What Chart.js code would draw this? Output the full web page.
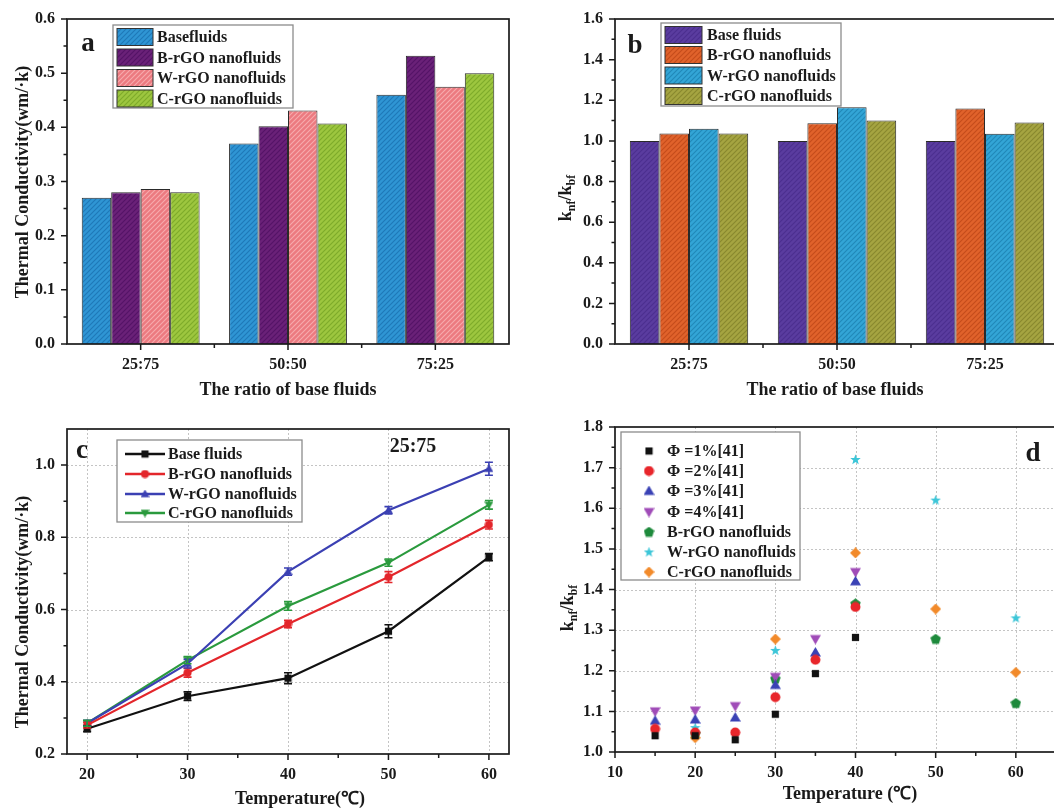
<!DOCTYPE html>
<html>
<head>
<meta charset="utf-8">
<title>rGO nanofluids</title>
<script src="https://cdn.jsdelivr.net/npm/chart.js@4.4.1/dist/chart.umd.min.js"></script>
<style>
  html, body { margin: 0; padding: 0; background: #fff; width: 1054px; height: 808px; overflow: hidden; }
  canvas { position: absolute; }
</style>
</head>
<body>
<canvas id="chartA" width="527" height="404" style="left:0;top:0"></canvas>
<canvas id="chartB" width="545" height="404" style="left:527px;top:0"></canvas>
<canvas id="chartC" width="527" height="404" style="left:0;top:404px"></canvas>
<canvas id="chartD" width="580" height="404" style="left:527px;top:404px"></canvas>
<script>
const FONT = '"Liberation Serif", "Times New Roman", serif';
const INK = '#1a1a1a';

// --- panel a: thermal conductivity by base-fluid ratio ---
const ratioLabels = ['25:75', '50:50', '75:25'];
const namesA = ['Basefluids', 'B-rGO nanofluids', 'W-rGO nanofluids', 'C-rGO nanofluids'];
const baseA = [0.270, 0.370, 0.460];
const bRgoA = [0.280, 0.402, 0.532];
const wRgoA = [0.286, 0.431, 0.475];
const cRgoA = [0.280, 0.407, 0.500];
const yTicksA = [0, 0.1, 0.2, 0.3, 0.4, 0.5, 0.6];

// --- panel b: knf/kbf by ratio ---
const namesB = ['Base fluids', 'B-rGO nanofluids', 'W-rGO nanofluids', 'C-rGO nanofluids'];
const baseB = [1.000, 1.000, 1.000];
const bRgoB = [1.036, 1.087, 1.160];
const wRgoB = [1.060, 1.165, 1.035];
const cRgoB = [1.036, 1.100, 1.090];
const yTicksB = [0, 0.2, 0.4, 0.6, 0.8, 1.0, 1.2, 1.4, 1.6];

// --- panel c: conductivity vs temperature (25:75) ---
const namesC = ['Base fluids', 'B-rGO nanofluids', 'W-rGO nanofluids', 'C-rGO nanofluids'];
const tempC = [20, 30, 40, 50, 60];
const baseC = [0.270, 0.360, 0.410, 0.540, 0.745];
const bRgoC = [0.280, 0.425, 0.560, 0.690, 0.835];
const wRgoC = [0.285, 0.450, 0.705, 0.875, 0.990];
const cRgoC = [0.285, 0.460, 0.610, 0.730, 0.890];
const errBaseC = [0.008, 0.012, 0.015, 0.018, 0.010];
const errBRgoC = [0.008, 0.012, 0.010, 0.015, 0.012];
const errWRgoC = [0.008, 0.012, 0.010, 0.010, 0.018];
const errCRgoC = [0.008, 0.010, 0.012, 0.010, 0.012];
const xTicksC = [20, 30, 40, 50, 60];
const yTicksC = [0.2, 0.4, 0.6, 0.8, 1.0];

// --- panel d: knf/kbf vs temperature, compared with ref [41] ---
const namesD = ['Φ =1%[41]', 'Φ =2%[41]', 'Φ =3%[41]', 'Φ =4%[41]',
                'B-rGO nanofluids', 'W-rGO nanofluids', 'C-rGO nanofluids'];
const tempRef = [15, 20, 25, 30, 35, 40];
const phi1 = [1.040, 1.040, 1.030, 1.093, 1.193, 1.282];
const phi2 = [1.057, 1.048, 1.048, 1.135, 1.227, 1.357];
const phi3 = [1.077, 1.080, 1.085, 1.165, 1.245, 1.420];
const phi4 = [1.100, 1.102, 1.113, 1.185, 1.278, 1.443];
const tempRgo = [20, 30, 40, 50, 60];
const bRgoD = [1.045, 1.180, 1.365, 1.278, 1.120];
const wRgoD = [1.060, 1.250, 1.720, 1.620, 1.330];
const cRgoD = [1.035, 1.278, 1.490, 1.352, 1.196];
const xTicksD = [10, 20, 30, 40, 50, 60, 70];
const yTicksD = [1.0, 1.1, 1.2, 1.3, 1.4, 1.5, 1.6, 1.7, 1.8];

// ---------- helpers ----------
const mids = arr => arr.slice(1).map((v, i) => (v + arr[i]) / 2);
const pts = (xs, ys) => xs.map((x, i) => ({ x: x, y: ys[i] }));

function hatch(ctx, base, stripe) {
    const s = 5;
    const c = document.createElement('canvas');
    c.width = s; c.height = s;
    const g = c.getContext('2d');
    g.fillStyle = base; g.fillRect(0, 0, s, s);
    g.strokeStyle = stripe; g.lineWidth = 1.1;
    g.beginPath();
    g.moveTo(0, s); g.lineTo(s, 0);
    g.moveTo(-1, 1); g.lineTo(1, -1);
    g.moveTo(s - 1, s + 1); g.lineTo(s + 1, s - 1);
    g.stroke();
    return ctx.createPattern(c, 'repeat');
}

function makeMarker(shape, color, size) {
    const c = document.createElement('canvas');
    c.width = size; c.height = size;
    const g = c.getContext('2d');
    const r = size / 2;
    g.fillStyle = color;
    g.beginPath();
    const poly = list => { list.forEach(([px, py], i) => i ? g.lineTo(px, py) : g.moveTo(px, py)); g.closePath(); };
    if (shape === 'square') g.rect(size * 0.1, size * 0.1, size * 0.8, size * 0.8);
    else if (shape === 'circle') g.arc(r, r, r * 0.9, 0, 2 * Math.PI);
    else if (shape === 'up') poly([[r, 0], [size, size * 0.87], [0, size * 0.87]]);
    else if (shape === 'down') poly([[0, size * 0.13], [size, size * 0.13], [r, size]]);
    else if (shape === 'diamond') poly([[r, 0], [size, r], [r, size], [0, r]]);
    else {
        const n = shape === 'star' ? 10 : 5, list = [];
        for (let i = 0; i < n; i++) {
            const ang = -Math.PI / 2 + i * 2 * Math.PI / n;
            const rr = (shape === 'star' && i % 2) ? r * 0.42 : r;
            list.push([r + rr * Math.cos(ang), r * 1.05 + rr * Math.sin(ang)]);
        }
        poly(list);
    }
    g.fill();
    return c;
}

function line(ctx, x1, y1, x2, y2) { ctx.moveTo(x1, y1); ctx.lineTo(x2, y2); }

// decoration drawn on top of each panel: frame, ticks, titles, legend
function makeDecor(cfg) {
    return {
        id: 'decor',
        beforeDatasetsDraw(chart) {
            if (!cfg.grid) return;
            const { ctx, chartArea: a, scales: { x, y } } = chart;
            ctx.save();
            ctx.strokeStyle = '#c4c4c4'; ctx.lineWidth = 1; ctx.setLineDash([2, 2]);
            ctx.beginPath();
            cfg.grid.x.forEach(v => { const p = Math.round(x.getPixelForValue(v)) + 0.5; line(ctx, p, a.top, p, a.bottom); });
            cfg.grid.y.forEach(v => { const p = Math.round(y.getPixelForValue(v)) + 0.5; line(ctx, a.left, p, a.right, p); });
            ctx.stroke();
            ctx.restore();
        },
        afterDatasetsDraw(chart) {
            if (!cfg.errors) return;
            const { ctx, scales: { x, y } } = chart;
            ctx.save();
            ctx.lineWidth = 1.6;
            cfg.errors.forEach((err, di) => {
                const ds = chart.data.datasets[di];
                ctx.strokeStyle = ds.borderColor;
                ctx.beginPath();
                ds.data.forEach((p, i) => {
                    const px = x.getPixelForValue(p.x);
                    const top = y.getPixelForValue(p.y + err[i]);
                    const bot = y.getPixelForValue(p.y - err[i]);
                    line(ctx, px, top, px, bot);
                    line(ctx, px - 4, top, px + 4, top);
                    line(ctx, px - 4, bot, px + 4, bot);
                });
                ctx.stroke();
            });
            ctx.restore();
        },
        afterDraw(chart) {
            const { ctx, chartArea: a, scales: { x, y } } = chart;
            ctx.save();
            // frame
            ctx.strokeStyle = INK; ctx.lineWidth = 1.7;
            ctx.strokeRect(a.left, a.top, a.right - a.left, a.bottom - a.top);
            // ticks (outward)
            ctx.lineWidth = 1.5;
            ctx.beginPath();
            const yMaj = y.ticks.map(t => t.value);
            yMaj.forEach(v => { const p = y.getPixelForValue(v); line(ctx, a.left, p, a.left - 6, p); });
            mids(yMaj).forEach(v => { const p = y.getPixelForValue(v); line(ctx, a.left, p, a.left - 3.5, p); });
            if (x.type === 'category') {
                const c = x.ticks.map((t, i) => x.getPixelForValue(i));
                c.forEach(p => line(ctx, p, a.bottom, p, a.bottom + 6));
                mids(c).forEach(p => line(ctx, p, a.bottom, p, a.bottom + 4));
            } else {
                const xMaj = x.ticks.map(t => t.value);
                xMaj.forEach(v => { const p = x.getPixelForValue(v); line(ctx, p, a.bottom, p, a.bottom + 6); });
                mids(xMaj).forEach(v => { const p = x.getPixelForValue(v); line(ctx, p, a.bottom, p, a.bottom + 4); });
            }
            ctx.stroke();

            ctx.fillStyle = INK;
            ctx.textBaseline = 'middle';
            ctx.textAlign = 'center';
            // x title
            ctx.font = 'bold 18px ' + FONT;
            ctx.fillText(cfg.xTitle.text, cfg.xTitle.x, cfg.xTitle.y);
            // y title (rotated, optional subscripts)
            ctx.save();
            ctx.translate(cfg.yTitle.x, cfg.yTitle.y);
            ctx.rotate(-Math.PI / 2);
            ctx.textAlign = 'left';
            ctx.textBaseline = 'alphabetic';
            const parts = cfg.yTitle.parts;
            const fontOf = p => 'bold ' + (p.sub ? 12 : 18) + 'px ' + FONT;
            let total = 0;
            parts.forEach(p => { ctx.font = fontOf(p); total += ctx.measureText(p.t).width; });
            let cx = -total / 2;
            parts.forEach(p => {
                ctx.font = fontOf(p);
                ctx.fillText(p.t, cx, p.sub ? 10 : 6);
                cx += ctx.measureText(p.t).width;
            });
            ctx.restore();
            // panel letter and extra labels
            (cfg.texts || []).forEach(t => {
                ctx.font = 'bold ' + t.size + 'px ' + FONT;
                ctx.textAlign = 'center';
                ctx.fillText(t.text, t.x, t.y);
            });
            // legend
            const L = cfg.legend;
            ctx.fillStyle = '#fff';
            ctx.fillRect(L.box[0], L.box[1], L.box[2], L.box[3]);
            ctx.strokeStyle = '#8c8c8c'; ctx.lineWidth = 1.3;
            ctx.strokeRect(L.box[0], L.box[1], L.box[2], L.box[3]);
            ctx.textAlign = 'left';
            ctx.font = 'bold 16px ' + FONT;
            chart.data.datasets.forEach((ds, i) => {
                const ly = L.ys[i];
                if (L.kind === 'bar') {
                    ctx.fillStyle = ds.backgroundColor;
                    ctx.fillRect(L.sx[0], ly - 8.5, L.sx[1] - L.sx[0], 17);
                    ctx.strokeStyle = '#333'; ctx.lineWidth = 1;
                    ctx.strokeRect(L.sx[0], ly - 8.5, L.sx[1] - L.sx[0], 17);
                } else {
                    if (L.kind === 'line') {
                        ctx.strokeStyle = ds.borderColor; ctx.lineWidth = 2.4;
                        ctx.beginPath(); line(ctx, L.sx[0], ly, L.sx[1], ly); ctx.stroke();
                    }
                    const m = ds.pointStyle;
                    const mx = (L.sx[0] + L.sx[1]) / 2;
                    ctx.drawImage(m, mx - m.width / 2, ly - m.height / 2);
                }
                ctx.fillStyle = INK;
                ctx.fillText(ds.label, L.tx, ly + 1);
            });
            ctx.restore();
        }
    };
}

const tickFont = { family: FONT, size: 16, weight: 'bold' };

function scaleY(min, max, ticks, width, digits) {
    return {
        min: min, max: max,
        grid: { display: false }, border: { display: false },
        afterBuildTicks: s => { s.ticks = ticks.map(v => ({ value: v })); },
        ticks: { font: tickFont, color: INK, padding: 4, callback: v => Number(v).toFixed(digits) },
        afterFit: s => { s.width = width; }
    };
}

function scaleX(extra, height) {
    return Object.assign({
        grid: { display: false }, border: { display: false },
        ticks: { font: tickFont, color: INK, padding: 3 },
        afterFit: s => { s.height = height; }
    }, extra);
}

function baseOptions(pad, scales) {
    return {
        responsive: false,
        animation: false,
        events: [],
        layout: { padding: pad },
        plugins: { legend: { display: false }, tooltip: { enabled: false } },
        scales: scales
    };
}

// ---------- panel a ----------
const ctxA = document.getElementById('chartA').getContext('2d');
const fillA = [hatch(ctxA, '#2f95d4', '#1f78b8'), hatch(ctxA, '#6a2178', '#541466'),
               hatch(ctxA, '#ec7a80', '#f7abad'), hatch(ctxA, '#9dc63f', '#7eaa2a')];
new Chart(ctxA, {
    type: 'bar',
    data: {
        labels: ratioLabels,
        datasets: [baseA, bRgoA, wRgoA, cRgoA].map((vals, i) => ({
            label: namesA[i], data: vals, backgroundColor: fillA[i],
            borderColor: '#2a2a2a', borderWidth: 1,
            categoryPercentage: 0.8, barPercentage: 1.0
        }))
    },
    options: baseOptions({ left: 0, top: 19, right: 18, bottom: 0 }, {
        x: scaleX({}, 60),
        y: scaleY(0, 0.6, yTicksA, 67, 1)
    }),
    plugins: [makeDecor({
        xTitle: { text: 'The ratio of base fluids', x: 288, y: 390 },
        yTitle: { x: 22, y: 182, parts: [{ t: 'Thermal Conductivity(wm/·k)' }] },
        texts: [{ text: 'a', x: 88, y: 44, size: 27 }],
        legend: { kind: 'bar', box: [113, 25, 180, 83], sx: [117, 153], tx: 157, ys: [37, 57.5, 78, 98.5] }
    })]
});

// ---------- panel b ----------
const ctxB = document.getElementById('chartB').getContext('2d');
const fillB = [hatch(ctxB, '#5a3c9f', '#4c2f8f'), hatch(ctxB, '#e0622b', '#c44c1c'),
               hatch(ctxB, '#33a5d6', '#2188b8'), hatch(ctxB, '#a5a441', '#88882e')];
new Chart(ctxB, {
    type: 'bar',
    data: {
        labels: ratioLabels,
        datasets: [baseB, bRgoB, wRgoB, cRgoB].map((vals, i) => ({
            label: namesB[i], data: vals, backgroundColor: fillB[i],
            borderColor: '#2a2a2a', borderWidth: 1,
            categoryPercentage: 0.8, barPercentage: 1.0
        }))
    },
    options: baseOptions({ left: 0, top: 19, right: 13, bottom: 0 }, {
        x: scaleX({}, 60),
        y: scaleY(0, 1.6, yTicksB, 88, 1)
    }),
    plugins: [makeDecor({
        xTitle: { text: 'The ratio of base fluids', x: 308, y: 390 },
        yTitle: { x: 38, y: 198, parts: [{ t: 'k' }, { t: 'nf', sub: true }, { t: '/k' }, { t: 'bf', sub: true }] },
        texts: [{ text: 'b', x: 108, y: 46, size: 27 }],
        legend: { kind: 'bar', box: [134, 23, 180, 83], sx: [138, 175], tx: 180, ys: [35, 55, 75.5, 96] }
    })]
});

// ---------- panel c ----------
const ctxC = document.getElementById('chartC').getContext('2d');
const colorsC = ['#111111', '#e3262b', '#3b40b3', '#2a9a3d'];
const shapesC = ['square', 'circle', 'up', 'down'];
new Chart(ctxC, {
    type: 'line',
    data: {
        datasets: [baseC, bRgoC, wRgoC, cRgoC].map((vals, i) => ({
            label: namesC[i], data: pts(tempC, vals),
            borderColor: colorsC[i], borderWidth: 2.2, tension: 0,
            pointStyle: makeMarker(shapesC[i], colorsC[i], 9), pointRadius: 4
        }))
    },
    options: baseOptions({ left: 0, top: 25, right: 18, bottom: 0 }, {
        x: scaleX({
            type: 'linear', min: 18, max: 62,
            afterBuildTicks: s => { s.ticks = xTicksC.map(v => ({ value: v })); }
        }, 54),
        y: scaleY(0.2, 1.1, yTicksC, 67, 1)
    }),
    plugins: [makeDecor({
        grid: { x: xTicksC, y: yTicksC.slice(1) },
        errors: [errBaseC, errBRgoC, errWRgoC, errCRgoC],
        xTitle: { text: 'Temperature(℃)', x: 300, y: 395 },
        yTitle: { x: 22, y: 208, parts: [{ t: 'Thermal Conductivity(wm/·k)' }] },
        texts: [{ text: 'c', x: 82, y: 47, size: 27 }, { text: '25:75', x: 413, y: 43, size: 20 }],
        legend: { kind: 'line', box: [117, 36, 185, 82], sx: [125, 165], tx: 168, ys: [50, 70, 90, 109] }
    })]
});

// ---------- panel d ----------
const ctxD = document.getElementById('chartD').getContext('2d');
const colorsD = ['#111111', '#e8262b', '#3a42b5', '#a04cb8', '#1e8a3c', '#3cc6d8', '#f28a2a'];
const shapesD = ['square', 'circle', 'up', 'down', 'pentagon', 'star', 'diamond'];
const seriesD = [[tempRef, phi1], [tempRef, phi2], [tempRef, phi3], [tempRef, phi4],
                 [tempRgo, bRgoD], [tempRgo, wRgoD], [tempRgo, cRgoD]];
new Chart(ctxD, {
    type: 'scatter',
    data: {
        datasets: seriesD.map(([xs, ys], i) => ({
            label: namesD[i], data: pts(xs, ys),
            backgroundColor: colorsD[i], borderColor: colorsD[i],
            pointStyle: makeMarker(shapesD[i], colorsD[i], shapesD[i] === 'square' ? 9 : 11), pointRadius: 5
        }))
    },
    options: baseOptions({ left: 0, top: 23, right: 10, bottom: 0 }, {
        x: scaleX({
            type: 'linear', min: 10, max: 70,
            afterBuildTicks: s => { s.ticks = xTicksD.map(v => ({ value: v })); }
        }, 56),
        y: scaleY(1.0, 1.8, yTicksD, 88, 1)
    }),
    plugins: [makeDecor({
        grid: { x: [20, 30, 40, 50, 60], y: yTicksD.slice(1, -1) },
        xTitle: { text: 'Temperature (℃)', x: 323, y: 390 },
        yTitle: { x: 40, y: 204, parts: [{ t: 'k' }, { t: 'nf', sub: true }, { t: '/k' }, { t: 'bf', sub: true }] },
        texts: [{ text: 'd', x: 506, y: 50, size: 27 }],
        legend: { kind: 'marker', box: [94, 28, 179, 148], sx: [112, 132], tx: 140, ys: [47, 67, 87, 108, 128, 148, 168] }
    })]
});
</script>
</body>
</html>
